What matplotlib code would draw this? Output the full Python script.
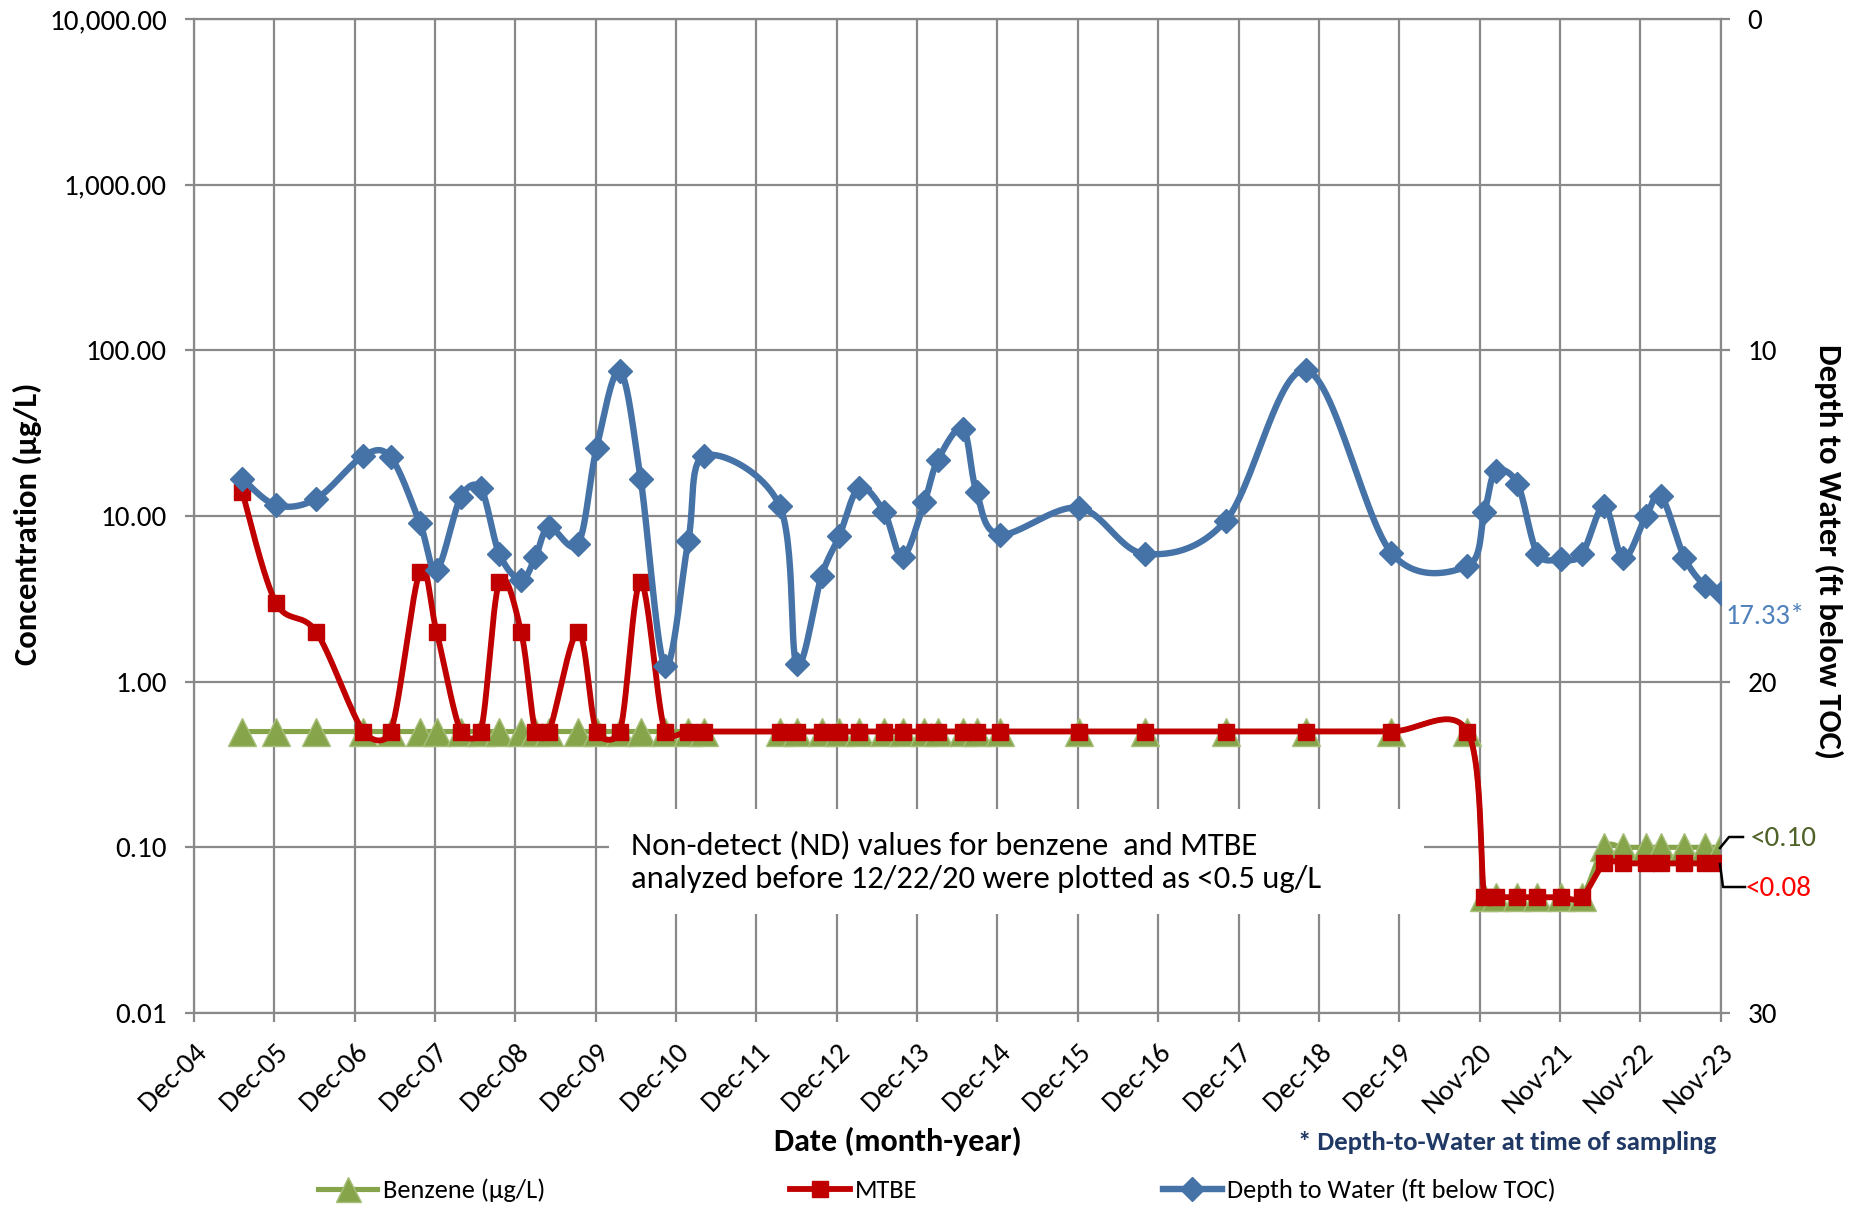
import numpy as np
import pandas as pd
import matplotlib
matplotlib.use("Agg")
import matplotlib.pyplot as plt
import matplotlib.dates as mdates
import matplotlib.transforms as mtransforms
from matplotlib import font_manager
from matplotlib.lines import Line2D
from matplotlib.patches import Rectangle

# sampling data
sample_dates = [
    "2005-07-11", "2005-12-11", "2006-06-12", "2007-01-13", "2007-05-17",
    "2007-09-26", "2007-12-11", "2008-03-30", "2008-06-29", "2008-09-21",
    "2008-12-29", "2009-03-04", "2009-05-05", "2009-09-14", "2009-12-07",
    "2010-03-23", "2010-06-25", "2010-10-13", "2011-01-27", "2011-04-10",
    "2012-03-18", "2012-06-03", "2012-09-24", "2012-12-13", "2013-03-14",
    "2013-07-05", "2013-09-27", "2014-01-04", "2014-03-07", "2014-06-28",
    "2014-08-29", "2014-12-13", "2015-12-06", "2016-09-30", "2017-10-04",
    "2018-10-04", "2019-10-26", "2020-10-06", "2020-12-22", "2021-02-11",
    "2021-05-21", "2021-08-20", "2021-12-04", "2022-03-09", "2022-06-19",
    "2022-09-14", "2022-12-26", "2023-03-05", "2023-06-19", "2023-09-22",
    "2023-11-30",
]
benzene = [0.5] * 38 + [0.05] * 6 + [0.10] * 7
mtbe = [14, 3, 2, 0.5, 0.5, 4.6, 2, 0.5, 0.5, 4,
        2, 0.5, 0.5, 2, 0.5, 0.5, 4, 0.5, 0.5, 0.5] + [0.5] * 18 + [0.05] * 6 + [0.08] * 7
depth = [13.87, 14.67, 14.48, 13.18, 13.23, 15.21, 16.63, 14.43, 14.17, 16.14,
         16.93, 16.24, 15.34, 15.84, 12.94, 10.63, 13.88, 19.53, 15.76, 13.18,
         14.70, 19.48, 16.81, 15.61, 14.15, 14.88, 16.24, 14.58, 13.30, 12.37,
         14.28, 15.56, 14.75, 16.14, 15.14, 10.60, 16.11, 16.51, 14.88, 13.65,
         14.02, 16.14, 16.31, 16.16, 14.70, 16.28, 15.01, 14.40, 16.26, 17.12,
         17.33]

conc_ticks = [0.01, 0.1, 1, 10, 100, 1000, 10000]
depth_ticks = [0, 10, 20, 30]
axis_start = "2004-12-04"
n_years = 19

GREEN = "#86A44A"
RED = "#C00000"
BLUE = "#4572A7"
GRID = "#898989"

names = {f.name for f in font_manager.fontManager.ttflist}
FONT = "Liberation Sans"
for cand in ["Carlito", "Roboto Condensed"]:
    if cand in names:
        FONT = cand
        break
plt.rcParams["font.family"] = [FONT, "DejaVu Sans"]

W, H = 1865, 1205
AX_L, AX_R, AX_T, AX_B = 194, 1720.6, 19, 1013


def fx(x):
    return x / W


def fy(y):
    return 1 - y / H


def smooth(x, y, kx, ky, n=30):
    # excel-like smoothed line: bezier with catmull-rom handles (in pixels),
    # each handle kept within half of its segment
    X = np.asarray(x, float) * kx
    Y = np.asarray(y, float) * ky
    P = np.column_stack([X, Y])
    P = np.vstack([P[0], P, P[-1]])
    s = np.linspace(0, 1, n)[1:, None]
    out = [P[1]]
    for i in range(1, len(P) - 2):
        p0, p1, p2, p3 = P[i - 1], P[i], P[i + 1], P[i + 2]
        d12 = np.hypot(*(p2 - p1))
        v1 = (p2 - p0) / 6
        v2 = (p3 - p1) / 6
        for v in (v1, v2):
            lv = np.hypot(*v)
            if lv > d12 / 2:
                v *= (d12 / 2) / lv
        c1 = p1 + v1
        c2 = p2 - v2
        seg = (1 - s) ** 3 * p1 + 3 * (1 - s) ** 2 * s * c1 + 3 * (1 - s) * s ** 2 * c2 + s ** 3 * p2
        out.extend(seg)
    out = np.array(out)
    return out[:, 0] / kx, out[:, 1] / ky


dates = mdates.date2num(pd.to_datetime(sample_dates))
start = mdates.date2num(pd.Timestamp(axis_start))
xticks = [start + 365 * k for k in range(n_years + 1)]

px_day = (AX_R - AX_L) / (xticks[-1] - xticks[0])
px_dec = (AX_B - AX_T) / 6
px_ft = (AX_B - AX_T) / 30

fig = plt.figure(figsize=(W / 100, H / 100), dpi=100)
ax = fig.add_axes([fx(AX_L), fy(AX_B), fx(AX_R) - fx(AX_L), fy(AX_T) - fy(AX_B)])
ax.set_yscale("log")
ax.set_xlim(xticks[0], xticks[-1])
ax.set_ylim(0.01, 10000)
ax.set_axisbelow(True)

# benzene
sx, sy = smooth(dates, np.log10(benzene), px_day, px_dec)
ax.plot(sx, 10 ** sy, color=GREEN, lw=3.7, zorder=2, solid_capstyle="round")
ax.plot(dates, benzene, ls="none", marker="^", ms=20, color=GREEN,
        mec="#A7BF7A", mew=1, zorder=2)
# mtbe
sx, sy = smooth(dates, np.log10(mtbe), px_day, px_dec)
ax.plot(sx, 10 ** sy, color=RED, lw=4.2, zorder=3, solid_capstyle="round")
ax.plot(dates, mtbe, ls="none", marker="s", ms=12, color=RED, mew=1, zorder=3)

ax.yaxis.set_major_locator(matplotlib.ticker.FixedLocator(conc_ticks))
ax.yaxis.set_minor_locator(matplotlib.ticker.NullLocator())
ax.yaxis.set_major_formatter(matplotlib.ticker.FuncFormatter(lambda v, p: f"{v:,.2f}"))
ax.set_xticks(xticks)
ax.set_xticklabels([mdates.num2date(t).strftime("%b-%y") for t in xticks],
                   rotation=45, ha="right", va="top", rotation_mode="anchor")
shift = mtransforms.ScaledTranslation(0.07, 0, fig.dpi_scale_trans)
for lbl in ax.get_xticklabels():
    lbl.set_transform(lbl.get_transform() + shift)
ax.grid(True, color=GRID, lw=1.6)
for sp in ax.spines.values():
    sp.set_color(GRID)
    sp.set_linewidth(1.6)
ax.tick_params(axis="both", which="major", length=6.5, width=1.6, color=GRID,
               labelsize=21, labelcolor="black")
ax.tick_params(axis="y", pad=13)
ax.tick_params(axis="x", pad=12)

# depth to water on the secondary axis
ax2 = ax.twinx()
ax2.set_ylim(30, 0)
ax2.set_yticks(depth_ticks)
sx, sy = smooth(dates, depth, px_day, px_ft)
ax2.plot(sx, sy, color=BLUE, lw=4.6, zorder=4, solid_capstyle="round")
ax2.plot(dates, depth, ls="none", marker="D", ms=12, color=BLUE, mew=1, zorder=4)
for sp in ax2.spines.values():
    sp.set_visible(False)
ax2.tick_params(axis="y", length=6.5, width=1.6, color=GRID, labelsize=21, pad=13)

fig.text(fx(27), fy(524), "Concentration (µg/L)", fontweight="bold",
         fontsize=23.5, rotation=90, ha="center", va="center")
fig.text(fx(1829), fy(552), "Depth to Water (ft below TOC)",
         fontweight="bold", fontsize=23.5, rotation=270, ha="center", va="center")

fig.text(fx(898), fy(1141), "Date (month-year)", fontsize=23, fontweight="bold",
         ha="center", va="center")
fig.text(fx(1716), fy(1143), "* Depth-to-Water at time of sampling", fontsize=19.3,
         fontweight="bold", color="#1F3864", ha="right", va="center")

fig.text(fx(1726), fy(617), f"{depth[-1]:.2f}*", fontsize=20.5, color="#4F81BD",
         ha="left", va="center")

# note box over the gridlines
fig.add_artist(Rectangle((fx(609), fy(914)), fx(1424) - fx(609), fy(809) - fy(914),
                         transform=fig.transFigure, facecolor="white", edgecolor="none",
                         zorder=5))
fig.text(fx(631), fy(862),
         "Non-detect (ND) values for benzene  and MTBE\n"
         "analyzed before 12/22/20 were plotted as <0.5 ug/L",
         fontsize=23.5, ha="left", va="center", linespacing=1.22, zorder=6)

# leader lines for the final reporting limits
fig.add_artist(Line2D([fx(1720), fx(1729), fx(1743)], [fy(848), fy(837), fy(837)],
                      transform=fig.transFigure, color="black", lw=1.8))
fig.add_artist(Line2D([fx(1720), fx(1723), fx(1745)], [fy(864), fy(887), fy(887)],
                      transform=fig.transFigure, color="black", lw=1.8))
fig.text(fx(1751), fy(838), f"<{benzene[-1]:.2f}", fontsize=21, color="#4F6228",
         ha="left", va="center")
fig.text(fx(1746), fy(889), f"<{mtbe[-1]:.2f}", fontsize=21, color="#FF0000",
         ha="left", va="center")

handles = [
    Line2D([], [], color=GREEN, lw=3.7, marker="^", ms=18, mec="#A7BF7A"),
    Line2D([], [], color=RED, lw=4.2, marker="s", ms=12),
    Line2D([], [], color=BLUE, lw=4.6, marker="D", ms=12),
]
fig.legend(handles, ["Benzene (µg/L)", "MTBE", "Depth to Water (ft below TOC)"],
           loc="center", bbox_to_anchor=(fx(937), fy(1190)), ncol=3, frameon=False,
           fontsize=19, handlelength=2.25, handletextpad=0.2, columnspacing=9.3)

fig.savefig("out.png", dpi=100)
